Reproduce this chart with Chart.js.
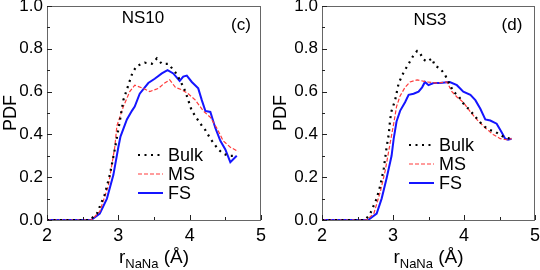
<!DOCTYPE html>
<html>
<head>
<meta charset="utf-8">
<script src="https://cdn.jsdelivr.net/npm/chart.js@4/dist/chart.umd.min.js"></script>
<style>
  body { margin: 0; background: #fff; }
  .panel { position: absolute; top: 0; width: 270px; height: 270px; }
</style>
</head>
<body>
<div class="panel" style="left:0"><canvas id="ns10"></canvas></div>
<div class="panel" style="left:270px"><canvas id="ns3"></canvas></div>
<script>
// values (r in Angstrom, PDF)
const ns10BulkR = [2.0, 2.3, 2.6, 2.70, 2.81, 2.88, 2.95, 3.02, 3.07, 3.14, 3.20, 3.26, 3.37, 3.47, 3.54, 3.61, 3.70, 3.80, 3.87, 3.94, 4.03, 4.15, 4.22, 4.29, 4.40, 4.47, 4.55, 4.65];
const ns10BulkPdf = [0, 0, 0, 0.03, 0.12, 0.21, 0.33, 0.46, 0.56, 0.63, 0.69, 0.72, 0.735, 0.73, 0.755, 0.73, 0.73, 0.69, 0.65, 0.60, 0.51, 0.45, 0.42, 0.38, 0.33, 0.31, 0.30, 0.30];
const ns10MsR = [2.0, 2.3, 2.62, 2.74, 2.86, 2.95, 2.98, 3.07, 3.16, 3.23, 3.35, 3.44, 3.56, 3.65, 3.72, 3.80, 3.88, 3.98, 4.08, 4.19, 4.29, 4.38, 4.47, 4.57, 4.68];
const ns10MsPdf = [0, 0, 0, 0.04, 0.16, 0.34, 0.44, 0.53, 0.60, 0.63, 0.615, 0.60, 0.615, 0.64, 0.655, 0.62, 0.61, 0.59, 0.56, 0.51, 0.48, 0.43, 0.37, 0.34, 0.32];
const ns10FsR = [2.0, 2.3, 2.62, 2.74, 2.84, 2.93, 3.0, 3.03, 3.12, 3.19, 3.23, 3.30, 3.42, 3.51, 3.61, 3.69, 3.77, 3.86, 3.91, 3.96, 4.03, 4.12, 4.17, 4.22, 4.29, 4.36, 4.43, 4.50, 4.57, 4.66];
const ns10FsPdf = [0, 0, 0, 0.03, 0.10, 0.21, 0.34, 0.39, 0.47, 0.51, 0.53, 0.59, 0.64, 0.66, 0.685, 0.70, 0.685, 0.65, 0.67, 0.675, 0.645, 0.615, 0.56, 0.51, 0.505, 0.43, 0.37, 0.33, 0.27, 0.30];

const ns3BulkR = [2.0, 2.3, 2.61, 2.68, 2.77, 2.82, 2.87, 2.91, 2.94, 2.96, 2.98, 3.03, 3.08, 3.15, 3.22, 3.29, 3.34, 3.38, 3.43, 3.48, 3.55, 3.59, 3.66, 3.73, 3.85, 3.92, 3.99, 4.09, 4.18, 4.27, 4.37, 4.45, 4.55, 4.65];
const ns3BulkPdf = [0, 0, 0, 0.03, 0.10, 0.16, 0.24, 0.34, 0.40, 0.47, 0.51, 0.56, 0.64, 0.69, 0.73, 0.77, 0.79, 0.78, 0.75, 0.74, 0.755, 0.72, 0.71, 0.68, 0.60, 0.58, 0.545, 0.51, 0.475, 0.44, 0.42, 0.41, 0.39, 0.38];
const ns3MsR = [2.0, 2.3, 2.63, 2.73, 2.82, 2.89, 2.96, 3.01, 3.05, 3.10, 3.17, 3.24, 3.34, 3.48, 3.62, 3.76, 3.83, 3.90, 3.99, 4.09, 4.18, 4.30, 4.41, 4.51, 4.60, 4.67];
const ns3MsPdf = [0, 0, 0, 0.03, 0.13, 0.23, 0.36, 0.45, 0.53, 0.58, 0.62, 0.645, 0.655, 0.645, 0.64, 0.645, 0.60, 0.575, 0.55, 0.505, 0.47, 0.43, 0.40, 0.38, 0.375, 0.38];
const ns3FsR = [2.0, 2.3, 2.65, 2.77, 2.84, 2.91, 2.98, 3.01, 3.05, 3.10, 3.17, 3.22, 3.29, 3.36, 3.41, 3.45, 3.50, 3.57, 3.66, 3.80, 3.90, 3.99, 4.09, 4.16, 4.23, 4.30, 4.37, 4.46, 4.53, 4.58, 4.62, 4.67];
const ns3FsPdf = [0, 0, 0, 0.03, 0.10, 0.195, 0.30, 0.38, 0.46, 0.51, 0.55, 0.585, 0.59, 0.60, 0.62, 0.645, 0.63, 0.64, 0.64, 0.645, 0.63, 0.60, 0.585, 0.56, 0.52, 0.47, 0.465, 0.45, 0.41, 0.38, 0.375, 0.38];

const seriesNames = ['Bulk', 'MS', 'FS'];
const xTicks = [2, 3, 4, 5];
const yTicks = [0, 0.2, 0.4, 0.6, 0.8, 1.0];

const FONT = '"Liberation Sans", Arial, sans-serif';

function pts(xs, ys) {
  return xs.map((x, i) => ({ x: x, y: ys[i] }));
}

function makeDatasets(bulk, ms, fs) {
  return [
    { label: seriesNames[0], data: bulk, borderColor: '#000', borderWidth: 2.2, borderDash: [2, 4.5], borderCapStyle: 'butt' },
    { label: seriesNames[1], data: ms, borderColor: '#ff3b3b', borderWidth: 1.2, borderDash: [4, 2] },
    { label: seriesNames[2], data: fs, borderColor: '#1515ff', borderWidth: 2 }
  ];
}

// draws frame, inward ticks, panel text, legend and the x title with subscript
const decorations = {
  id: 'decorations',
  afterDraw(chart, args, opts) {
    const ctx = chart.ctx;
    const a = chart.chartArea;
    const xs = chart.scales.x, ys = chart.scales.y;
    ctx.save();
    ctx.strokeStyle = '#666';
    ctx.lineWidth = 1;
    ctx.strokeRect(a.left + 0.5, a.top + 0.5, a.right - a.left - 1, a.bottom - a.top);

    ctx.strokeStyle = '#222';
    ctx.beginPath();
    for (let v = 0; v <= 10; v++) {
      const y = Math.round(ys.getPixelForValue(v / 10)) + 0.5;
      const len = v % 2 === 0 ? 5 : 3;
      ctx.moveTo(a.left, y); ctx.lineTo(a.left + len, y);
    }
    for (let v = 4; v <= 10; v++) {
      const x = Math.round(xs.getPixelForValue(v / 2)) + 0.5;
      const len = v % 2 === 0 ? 5 : 3;
      ctx.moveTo(x, a.bottom); ctx.lineTo(x, a.bottom - len);
    }
    ctx.stroke();

    ctx.fillStyle = '#000';
    ctx.textBaseline = 'middle';
    ctx.textAlign = 'center';
    ctx.font = '17px ' + FONT;
    ctx.fillText(opts.name, opts.nameX, opts.nameY);
    ctx.font = '17px ' + FONT;
    ctx.fillText(opts.letter, opts.letterX, opts.letterY);

    // legend
    chart.data.datasets.forEach((ds, i) => {
      const y = opts.legY + i * 19;
      ctx.beginPath();
      ctx.strokeStyle = ds.borderColor;
      ctx.lineWidth = ds.borderWidth;
      ctx.setLineDash(ds.borderDash || []);
      ctx.moveTo(opts.legX, y); ctx.lineTo(opts.legX + 25, y);
      ctx.stroke();
      ctx.setLineDash([]);
      ctx.textAlign = 'left';
      ctx.font = '18px ' + FONT;
      ctx.fillText(ds.label, opts.legX + 30, y + 1);
    });

    // x title: r_NaNa (Å)
    const cx = (a.left + a.right) / 2;
    const base = 263;
    ctx.textBaseline = 'alphabetic';
    ctx.font = '19px ' + FONT;
    const w1 = ctx.measureText('r').width;
    const w3 = ctx.measureText(' (Å)').width;
    ctx.font = '13px ' + FONT;
    const w2 = ctx.measureText('NaNa').width;
    let x = cx - (w1 + w2 + w3) / 2;
    ctx.font = '19px ' + FONT;
    ctx.fillText('r', x, base);
    x += w1;
    ctx.font = '13px ' + FONT;
    ctx.fillText('NaNa', x, base + 5);
    x += w2;
    ctx.font = '19px ' + FONT;
    ctx.fillText(' (Å)', x, base);
    ctx.restore();
  }
};

function makePanel(id, yWidth, padRight, datasets, deco) {
  return new Chart(document.getElementById(id), {
    type: 'line',
    data: { datasets: datasets },
    options: {
      responsive: false,
      animation: false,
      elements: { point: { radius: 0 }, line: { tension: 0, fill: false } },
      layout: { padding: { left: 0, right: padRight, top: 6, bottom: 0 } },
      plugins: { legend: { display: false }, tooltip: { enabled: false }, decorations: deco },
      scales: {
        x: {
          type: 'linear', min: 2, max: 5,
          afterBuildTicks: s => { s.ticks = xTicks.map(v => ({ value: v })); },
          ticks: { color: '#000', font: { family: FONT, size: 18 }, padding: 5, maxRotation: 0 },
          grid: { display: false, drawTicks: false },
          border: { display: false },
          afterFit: s => { s.height = 50; s.paddingLeft = 0; s.paddingRight = 0; }
        },
        y: {
          min: 0, max: 1,
          afterBuildTicks: s => { s.ticks = yTicks.map(v => ({ value: v })); },
          ticks: { color: '#000', font: { family: FONT, size: 17 }, padding: 4, callback: v => v.toFixed(1) },
          grid: { display: false, drawTicks: false },
          border: { display: false },
          title: { display: true, text: 'PDF', color: '#000', font: { family: FONT, size: 18 }, padding: 0 },
          afterFit: s => { s.width = yWidth; s.paddingTop = 0; s.paddingBottom = 0; }
        }
      }
    },
    plugins: [decorations]
  });
}

for (const c of document.querySelectorAll('canvas')) { c.width = 270; c.height = 270; }

makePanel('ns10', 47, 9,
  makeDatasets(pts(ns10BulkR, ns10BulkPdf), pts(ns10MsR, ns10MsPdf), pts(ns10FsR, ns10FsPdf)),
  { name: 'NS10', nameX: 143, nameY: 18, letter: '(c)', letterX: 241, letterY: 25, legX: 138, legY: 155 });

makePanel('ns3', 52, 5,
  makeDatasets(pts(ns3BulkR, ns3BulkPdf), pts(ns3MsR, ns3MsPdf), pts(ns3FsR, ns3FsPdf)),
  { name: 'NS3', nameX: 160, nameY: 20, letter: '(d)', letterX: 242, letterY: 25, legX: 139, legY: 145 });
</script>
</body>
</html>
